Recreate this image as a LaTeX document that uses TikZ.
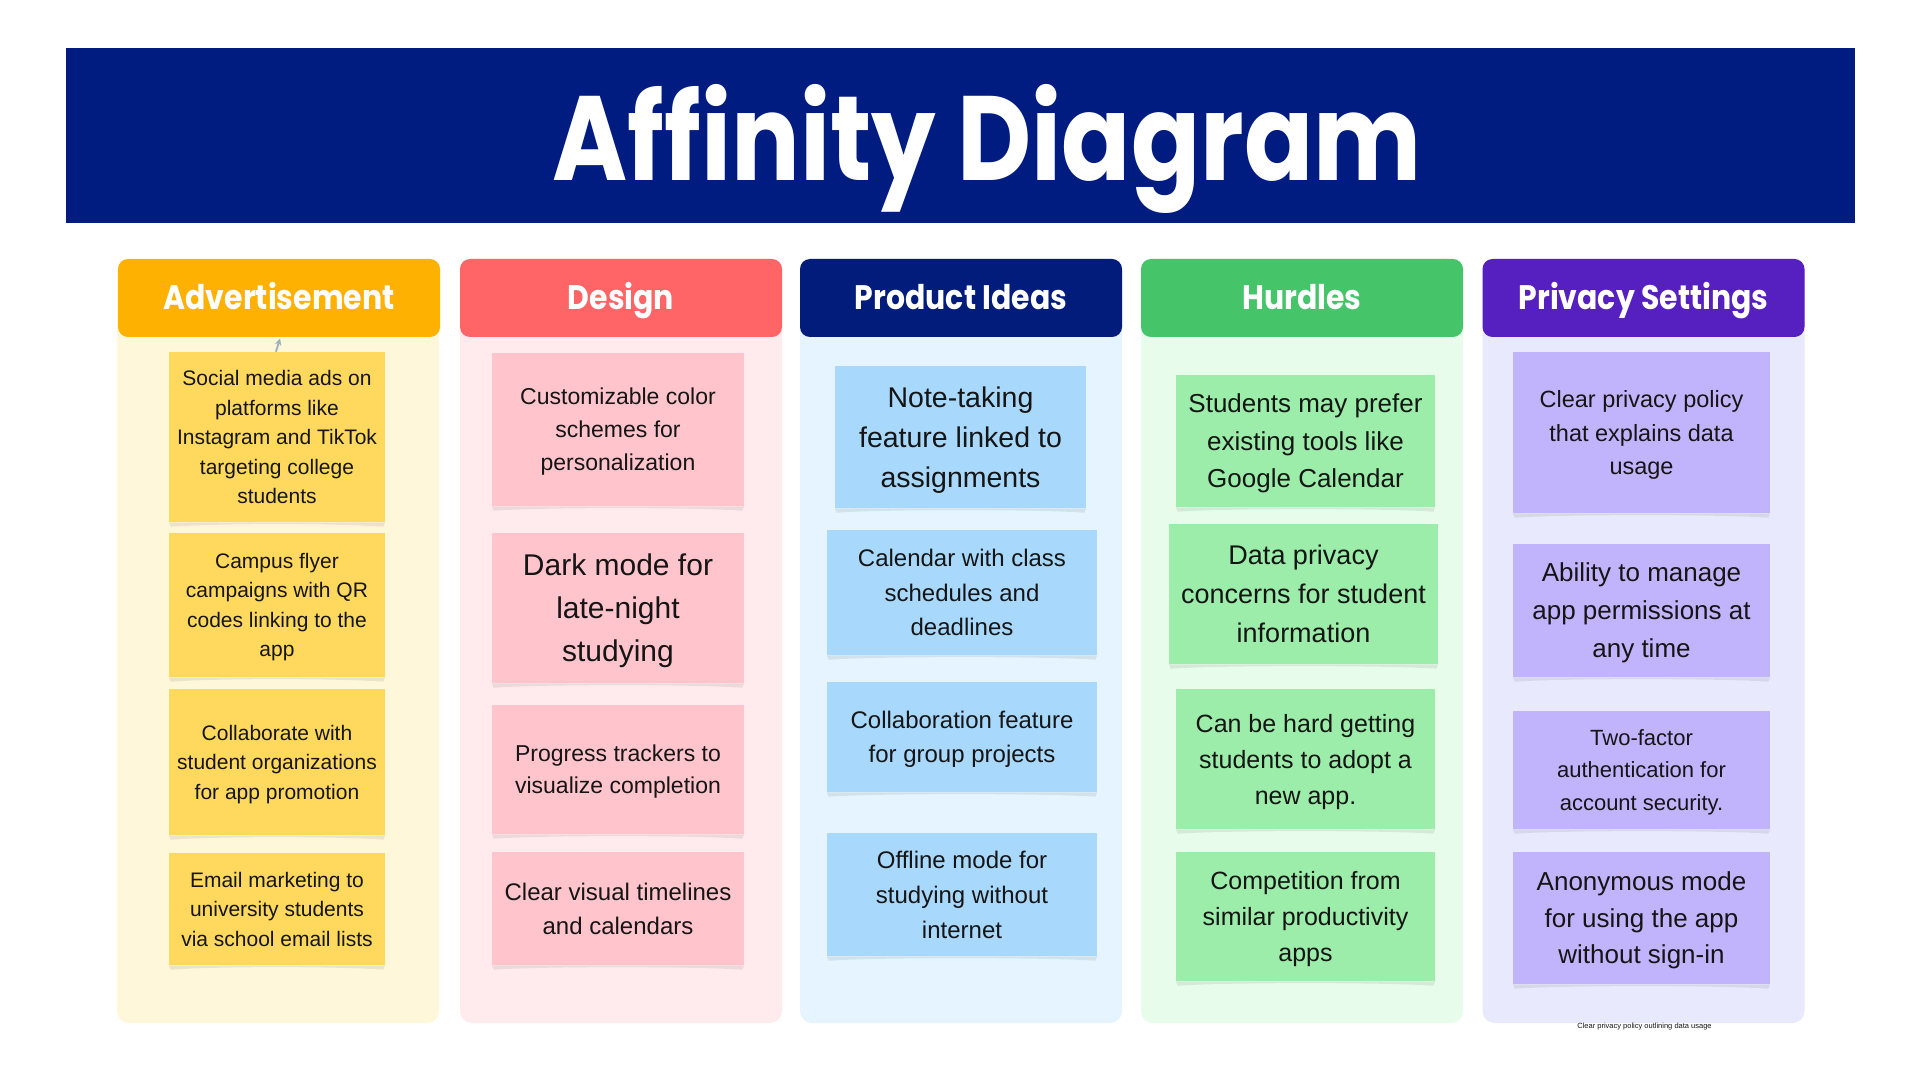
\documentclass[tikz,border=0pt]{standalone}
\usepackage{fontspec}
\usepackage{graphicx}
\setmainfont{Liberation Sans}
\newfontfamily\headfont{Poppins}
\usetikzlibrary{arrows.meta,calc}

% sizes given in pixels (1px = 0.75pt)
\newcommand\fsz[2]{\fontsize{\fpeval{#1*0.75}}{\fpeval{#2*0.75}}\selectfont}
% narrower setting of the geometric heading face
\newcommand\narrow[2]{\scalebox{#1}[1]{#2}}
% soft curled shadow under a sticky note
\newcommand\curl[1]{%
  \fill[black, opacity=0.075]
    (#1.south west) -- (#1.south east)
    -- ($(#1.south east)+(-2,4.5)$)
    .. controls ($(#1.south east)+(-45,1)$) and ($(#1.south west)+(45,1)$)
    .. ($(#1.south west)+(2,4.5)$) -- cycle;}

\definecolor{navy}{HTML}{001C80}
\definecolor{adHead}{HTML}{FFB100}
\definecolor{adBody}{HTML}{FFF7D9}
\definecolor{adNote}{HTML}{FFD95E}
\definecolor{dsHead}{HTML}{FF6467}
\definecolor{dsBody}{HTML}{FFEBEE}
\definecolor{dsNote}{HTML}{FFC4CC}
\definecolor{pdHead}{HTML}{021C7C}
\definecolor{pdBody}{HTML}{E5F4FE}
\definecolor{pdNote}{HTML}{A8D8FC}
\definecolor{huHead}{HTML}{45C46A}
\definecolor{huBody}{HTML}{E8FCEB}
\definecolor{huNote}{HTML}{9BEDA9}
\definecolor{prHead}{HTML}{561FC0}
\definecolor{prBody}{HTML}{E9E9FD}
\definecolor{prNote}{HTML}{C2B4FC}
\definecolor{inkc}{HTML}{151515}
\definecolor{linkc}{HTML}{9FAFC2}

\tikzset{
  sz/.style 2 args={minimum width=#1*0.75pt, minimum height=#2*0.75pt},
  body/.style={fill=#1, rounded corners=9pt, inner sep=0pt},
  head/.style={fill=#1, rounded corners=7.5pt, inner sep=0pt, sz={322}{78},
    text=white, font=\headfont\bfseries\fsz{34}{40}, text height=18pt, text depth=0pt},
  note/.style={fill=#1, inner sep=0pt, align=center, text=inkc, text depth=0pt},
  link/.style={draw=linkc, line width=1.4pt, -{Stealth[length=5pt,width=5pt]}},
}

\begin{document}
\begin{tikzpicture}[x=0.75pt,y=-0.75pt]
\useasboundingbox (0,0) rectangle (1920,1080);
\fill[white] (0,0) rectangle (1920,1080);

% title banner
\node[fill=navy, inner sep=0pt, sz={1789}{175}] (banner) at (960.5,135.5) {};
\node[anchor=base, text=white, inner sep=0pt, font=\headfont\bfseries\fsz{120}{130}] (title) at (987,181)
  {\narrow{0.85}{Affinity Diagram}};

% column backgrounds
\node[body=adBody, sz={322}{764}] (bA) at (278,641) {};
\node[body=dsBody, sz={322}{764}] (bD) at (621,641) {};
\node[body=pdBody, sz={322}{764}] (bP) at (961,641) {};
\node[body=huBody, sz={322}{764}] (bH) at (1302,641) {};
\node[body=prBody, sz={322}{764}] (bR) at (1643.5,641) {};

% column headers
\node[head=adHead] (hA) at (279,298) {\narrow{0.88}{Advertisement}};
\node[head=dsHead] (hD) at (621,298) {\narrow{0.88}{Design}};
\node[head=pdHead] (hP) at (961,298) {\narrow{0.88}{Product Ideas}};
\node[head=huHead] (hH) at (1302,298) {\narrow{0.88}{Hurdles}};
\node[head=prHead] (hR) at (1643.5,298) {\narrow{0.88}{Privacy Settings}};

% Advertisement
\node[note=adNote, sz={216}{170}, font=\fsz{21}{29.5}] (a1) at (277,437)
  {Social media ads on\\platforms like\\Instagram and TikTok\\targeting college\\students};
\node[note=adNote, sz={216}{144}, font=\fsz{21}{29.5}] (a2) at (277,605)
  {Campus flyer\\campaigns with QR\\codes linking to the\\app};
\node[note=adNote, sz={216}{146}, font=\fsz{21}{29.5}] (a3) at (277,762)
  {Collaborate with\\student organizations\\for app promotion};
\node[note=adNote, sz={216}{112}, font=\fsz{21}{29.5}] (a4) at (277,909)
  {Email marketing to\\university students\\via school email lists};
\draw[link] ([xshift=-0.8pt]a1.north) -- ([xshift=0.8pt,yshift=-1pt]hA.south);

% Design
\node[note=dsNote, sz={252}{153}, font=\fsz{23}{33}] (d1) at (618,429.5)
  {Customizable color\\schemes for\\personalization};
\node[note=dsNote, sz={252}{150}, font=\fsz{30}{43}] (d2) at (618,608)
  {Dark mode for\\late-night\\studying};
\node[note=dsNote, sz={252}{129}, font=\fsz{23}{32}] (d3) at (618,769.5)
  {Progress trackers to\\visualize completion};
\node[note=dsNote, sz={252}{113}, font=\fsz{24}{34}] (d4) at (618,908.5)
  {Clear visual timelines\\and calendars};

% Product Ideas
\node[note=pdNote, sz={251}{142}, font=\fsz{28.5}{40}] (p1) at (960.5,437)
  {Note-taking\\feature linked to\\assignments};
\node[note=pdNote, sz={270}{125}, font=\fsz{24}{34.5}] (p2) at (962,592.5)
  {Calendar with class\\schedules and\\deadlines};
\node[note=pdNote, sz={270}{110}, font=\fsz{24}{34.5}] (p3) at (962,737)
  {Collaboration feature\\for group projects};
\node[note=pdNote, sz={270}{123}, font=\fsz{24}{35}] (p4) at (962,894.5)
  {Offline mode for\\studying without\\internet};

% Hurdles
\node[note=huNote, sz={259}{132}, font=\fsz{26}{37.5}] (u1) at (1305.5,441)
  {Students may prefer\\existing tools like\\Google Calendar};
\node[note=huNote, sz={269}{140}, font=\fsz{27}{39}] (u2) at (1303.5,594)
  {Data privacy\\concerns for student\\information};
\node[note=huNote, sz={259}{140}, font=\fsz{25}{36}] (u3) at (1305.5,759)
  {Can be hard getting\\students to adopt a\\new app.};
\node[note=huNote, sz={259}{129}, font=\fsz{25}{36}] (u4) at (1305.5,916.5)
  {Competition from\\similar productivity\\apps};

% Privacy Settings
\node[note=prNote, sz={257}{161}, font=\fsz{23.5}{33.5}] (r1) at (1641.5,432.5)
  {Clear privacy policy\\that explains data\\usage};
\node[note=prNote, sz={257}{133}, font=\fsz{26}{38}] (r2) at (1641.5,610.5)
  {Ability to manage\\app permissions at\\any time};
\node[note=prNote, sz={257}{118}, font=\fsz{22}{32.5}] (r3) at (1641.5,770)
  {Two-factor\\authentication for\\account security.};
\node[note=prNote, sz={257}{132}, font=\fsz{26}{36.5}] (r4) at (1641.5,918)
  {Anonymous mode\\for using the app\\without sign-in};

% curled shadows under every note
\foreach \n in {a1,a2,a3,a4,d1,d2,d3,d4,p1,p2,p3,p4,u1,u2,u3,u4,r1,r2,r3,r4}
  {\curl{\n}}

\node[inner sep=0pt, text=inkc, font=\fsz{7.5}{9}] (cap) at (1644.5,1027)
  {Clear privacy policy outlining data usage};
\end{tikzpicture}
\end{document}
